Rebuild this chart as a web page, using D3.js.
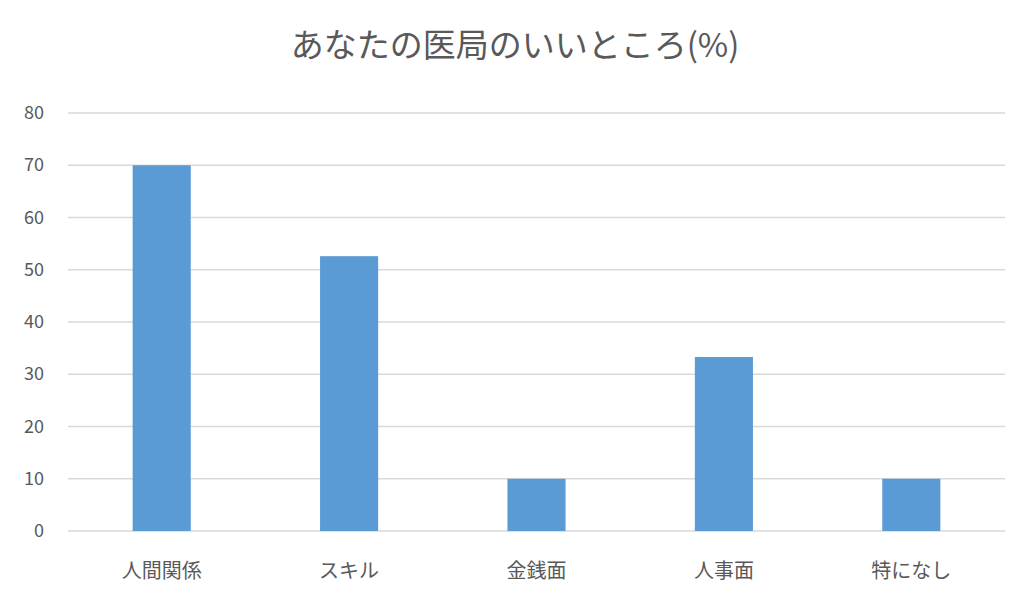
<!DOCTYPE html>
<html><head><meta charset="utf-8">
<script src="https://cdn.jsdelivr.net/npm/d3@7"></script>
<style>body{margin:0;background:#fff}</style></head>
<body><svg id="c" width="1029" height="606"></svg>
<script>
const categories = ["人間関係","スキル","金銭面","人事面","特になし"];
const values = [70, 52.6, 10, 33.3, 10];
const yTicks = [0,10,20,30,40,50,60,70,80];
const title = "あなたの医局のいいところ(%)";

const svg = d3.select("#c");
const font = "'Noto Sans CJK JP','Noto Sans',sans-serif";
const x = d3.scaleBand().domain(categories).range([68,1005]);
const y = d3.scaleLinear().domain([0,80]).range([531,113]);

svg.append("text").attr("x",515).attr("y",57).attr("text-anchor","middle")
  .attr("font-family",font).attr("font-size",33).attr("fill","#595959").text(title);

svg.append("g").selectAll("line").data(yTicks).join("line")
  .attr("x1",68).attr("x2",1005).attr("y1",d=>y(d)).attr("y2",d=>y(d))
  .attr("stroke","#d9d9d9").attr("stroke-width",1.5);

svg.append("g").selectAll("text").data(yTicks).join("text")
  .attr("x",44).attr("y",d=>y(d)+6).attr("text-anchor","end")
  .attr("font-family",font).attr("font-size",18).attr("fill","#595959").text(d=>d);

const bw = x.bandwidth()*0.31;
svg.append("g").selectAll("rect").data(categories).join("rect")
  .attr("x",d=>x(d)+x.bandwidth()/2-bw/2).attr("width",bw)
  .attr("y",(d,i)=>y(values[i])).attr("height",(d,i)=>y(0)-y(values[i]))
  .attr("fill","#5b9bd5");

svg.append("g").selectAll("text").data(categories).join("text")
  .attr("x",d=>x(d)+x.bandwidth()/2).attr("y",578).attr("text-anchor","middle")
  .attr("font-family",font).attr("font-size",20).attr("fill","#595959").text(d=>d);
</script></body></html>
